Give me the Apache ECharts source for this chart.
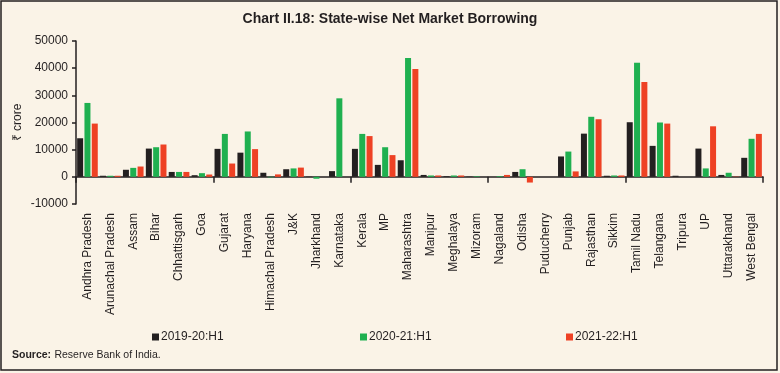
<!DOCTYPE html>
<html><head><meta charset="utf-8">
<script src="https://cdn.jsdelivr.net/npm/echarts@6/dist/echarts.min.js"></script>
<style>html,body{margin:0;padding:0;background:#faf3e7;}#c{width:780px;height:373px;}</style>
</head><body><div id="c"></div>
<script>
const categories = ["Andhra Pradesh","Arunachal Pradesh","Assam","Bihar","Chhattisgarh","Goa","Gujarat","Haryana","Himachal Pradesh","J&K","Jharkhand","Karnataka","Kerala","MP","Maharashtra","Manipur","Meghalaya","Mizoram","Nagaland","Odisha","Puducherry","Punjab","Rajasthan","Sikkim","Tamil Nadu","Telangana","Tripura","UP","Uttarakhand","West Bengal"];
const s2019 = [14200,400,2600,10400,1800,600,10300,8900,1500,2800,100,2100,10300,4400,6100,700,250,100,0,1800,0,7500,15900,400,20100,11400,400,10400,700,7000];
const s2020 = [27200,400,3300,10900,1800,1350,15800,16700,-200,3100,-700,28900,15800,10900,43750,500,500,200,250,2800,0,9300,22100,500,42000,20000,0,3100,1500,14000];
const s2021 = [19600,400,3800,11900,1800,850,4900,10200,900,3400,0,0,15000,8000,39700,500,500,0,700,-2100,0,2000,21200,500,34900,19600,0,18600,100,15800];
const seriesNames = ["2019-20:H1","2020-21:H1","2021-22:H1"];
const yTicks = {min:-10000,max:50000,interval:10000};

const colors = ["#231f20","#1fb050","#ee4124"];
const font = "'Liberation Sans', Arial, sans-serif";
const chart = echarts.init(document.getElementById('c'));
const data = [s2019,s2020,s2021];
chart.setOption({
  backgroundColor:'#faf3e7',
  animation:false,
  title:{text:'Chart II.18: State-wise Net Market Borrowing',left:'center',top:7,
    textStyle:{fontFamily:"'Liberation Sans Narrow', 'Liberation Sans', sans-serif",fontWeight:'bold',fontSize:14,color:'#231f20'}},
  grid:{left:76,right:17,top:41,bottom:169},
  legend:[0,1,2].map(i=>({data:[seriesNames[i]],left:[147,355,561][i],top:326,icon:'rect',itemWidth:7,itemHeight:7,itemGap:2,
    textStyle:{fontFamily:font,fontSize:12,color:'#231f20',padding:[0,0,0,-3]}})),
  xAxis:[
    {type:'category',data:categories,axisLine:{onZero:true,lineStyle:{color:'#231f20',width:1.5}},
     axisTick:{show:true,length:6,lineStyle:{color:'#231f20',width:1.5}},axisLabel:{show:false}},
    {type:'category',data:categories,position:'bottom',axisLine:{show:false},axisTick:{show:false},
     axisLabel:{rotate:90,margin:9,interval:0,fontFamily:font,fontSize:12,color:'#231f20'}}
  ],
  yAxis:{type:'value',min:yTicks.min,max:yTicks.max,interval:yTicks.interval,
    name:'₹ crore',nameLocation:'middle',nameGap:52,nameMoveOverlap:false,nameTextStyle:{fontFamily:font,fontSize:12,color:'#231f20'},
    axisLine:{show:true,lineStyle:{color:'#231f20',width:1.5}},axisTick:{show:true,length:4,lineStyle:{color:'#231f20',width:1.5}},
    splitLine:{show:false},axisLabel:{margin:8,fontFamily:font,fontSize:12,color:'#231f20',formatter:v=>String(v)}},
  series:[0,1,2].map(i=>({name:seriesNames[i],type:'bar',data:data[i],barWidth:6,barGap:'22%',
    itemStyle:{color:colors[i]}})),
  graphic:[
    {type:'rect',shape:{x:1,y:1,width:776,height:369},style:{fill:'none',stroke:'#231f20',lineWidth:1.5},silent:true,z:100},
    {type:'text',left:12,top:349,style:{rich:{b:{fontWeight:'bold',fontFamily:font,fontSize:10.5,fill:'#231f20'},n:{fontFamily:font,fontSize:10.5,fill:'#231f20'}},text:'{b|Source:} {n|Reserve Bank of India.}'}}
  ]
});
</script></body></html>
